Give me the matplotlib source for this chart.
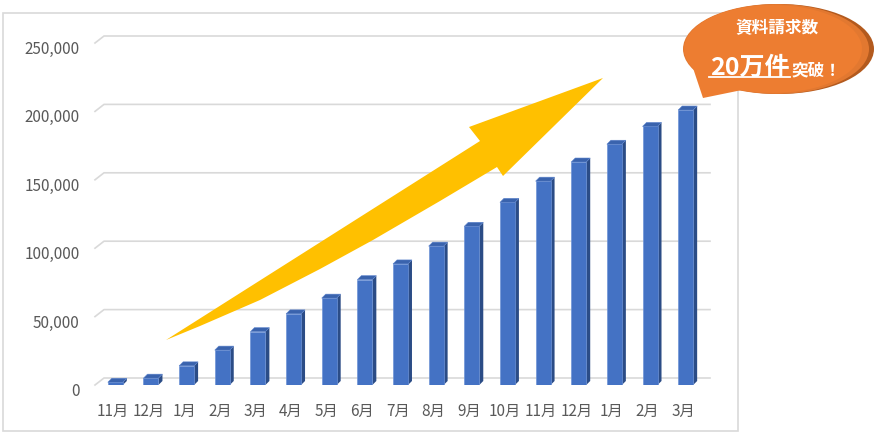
import matplotlib
matplotlib.use('Agg')
import matplotlib.pyplot as plt
from matplotlib.patches import Polygon, Ellipse, Rectangle
from matplotlib.ticker import FuncFormatter
from matplotlib.transforms import ScaledTranslation

plt.rcParams['font.family'] = ['Noto Sans CJK JP', 'DejaVu Sans']

# monthly cumulative document requests
months = ['11月', '12月', '1月', '2月', '3月', '4月', '5月', '6月', '7月',
          '8月', '9月', '10月', '11月', '12月', '1月', '2月', '3月']
requests = [2000, 5000, 14000, 25500, 39000, 52000, 63500, 77000, 88500,
            101500, 116000, 133500, 149000, 163000, 176000, 189000, 201000]
yticks = [0, 50000, 100000, 150000, 200000, 250000]

W, H = 877, 435
fig = plt.figure(figsize=(W / 100, H / 100), dpi=100)

## main axes, placed in pixels of the picture
ax_l, ax_r, ax_b, ax_t = 95, 701, 386, 44
ax = fig.add_axes([ax_l / W, 1 - ax_b / H, (ax_r - ax_l) / W, (ax_b - ax_t) / H])
ax.set_xlim(-0.5, len(months) - 0.5)
ax.set_ylim(0, 250000)
for s in ax.spines.values():
    s.set_visible(False)
ax.patch.set_alpha(0)

px_x = (ax_r - ax_l) / (len(months))      # pixels per x unit
px_y = (ax_b - ax_t) / 250000.0            # pixels per y unit

## back-wall gridlines with a slanted floor edge on the left
gdx, gdy = 9 / px_x, 7 / px_y
x0, x1 = -0.5, len(months) - 0.5
for v in yticks:
    ax.plot([x0, x0 + gdx, x1 + gdx], [v, v + gdy, v + gdy], color='#D9D9D9',
            lw=1.2, clip_on=False, zorder=1)

## 3d-looking columns
bw = 0.42
ddx, ddy = 4 / px_x, 4 / px_y
xs = list(range(len(months)))
ax.bar([x + 0.07 for x in xs], requests, width=bw, color='#4472C4',
       edgecolor='#6E93D6', linewidth=0.5, zorder=3)
for x, v in zip(xs, requests):
    xr = x + 0.07 + bw / 2
    xl = x + 0.07 - bw / 2
    side = Polygon([(xr, 0), (xr + ddx, ddy), (xr + ddx, v + ddy), (xr, v)],
                   closed=True, facecolor='#2B4C86', edgecolor='none', zorder=2.9,
                   clip_on=False)
    top = Polygon([(xl, v), (xr, v), (xr + ddx, v + ddy), (xl + ddx, v + ddy)],
                  closed=True, facecolor='#3A63AD', edgecolor='#5A82CC', lw=0.4,
                  zorder=3.1, clip_on=False)
    ax.add_patch(side)
    ax.add_patch(top)

ax.set_xticks(xs)
ax.set_xticklabels(months)
ax.set_yticks(yticks)
ax.yaxis.set_major_formatter(FuncFormatter(lambda v, p: f'{int(v):,}'))
ax.tick_params(axis='both', length=0, labelsize=11, labelcolor='#595959')
ax.tick_params(axis='y', pad=11)
ax.tick_params(axis='x', pad=12)
shift = ScaledTranslation(0, -0.035, fig.dpi_scale_trans)
for lab in ax.get_yticklabels():
    lab.set_transform(lab.get_transform() + shift)

## overlay in picture pixels for border, arrow and callout
ov = fig.add_axes([0, 0, 1, 1])
ov.set_xlim(0, W)
ov.set_ylim(H, 0)
ov.axis('off')
ov.patch.set_alpha(0)

ov.add_patch(Rectangle((3, 14), 735, 418, fill=False, edgecolor='#D9D9D9', lw=1.2))

arrow = [(166, 341), (480, 142), (469, 128), (603, 79), (503, 177), (497, 168),
         (440, 202), (373, 241), (320, 270), (260, 301), (200, 327)]
ov.add_patch(Polygon(arrow, closed=True, facecolor='#FFC000', edgecolor='none', zorder=5))

## speech bubble
ov.add_patch(Ellipse((779, 50), 190, 90, facecolor='#B35A1E', edgecolor='none', zorder=6))
ov.add_patch(Polygon([(692, 66), (703, 99), (742, 91)], closed=True,
                     facecolor='#ED7D31', edgecolor='none', zorder=6.3))
ov.add_patch(Ellipse((776, 50), 186, 90, facecolor='#E27830', edgecolor='none', zorder=6.1))
ov.add_patch(Ellipse((773, 50), 178, 88, facecolor='#ED7D31', edgecolor='none', zorder=6.2))

ov.text(777, 28, '資料請求数', color='white', fontsize=12, fontweight='bold',
        ha='center', va='center', zorder=7)
ov.text(790, 75, '20万件', color='white', fontsize=18, fontweight='bold',
        ha='right', va='baseline', zorder=7)
ov.text(791, 75, '突破！', color='white', fontsize=12, fontweight='bold',
        ha='left', va='baseline', zorder=7)
ov.plot([709, 790], [78, 78], color='white', lw=1.3, zorder=7)

fig.savefig('out.png', dpi=100)
